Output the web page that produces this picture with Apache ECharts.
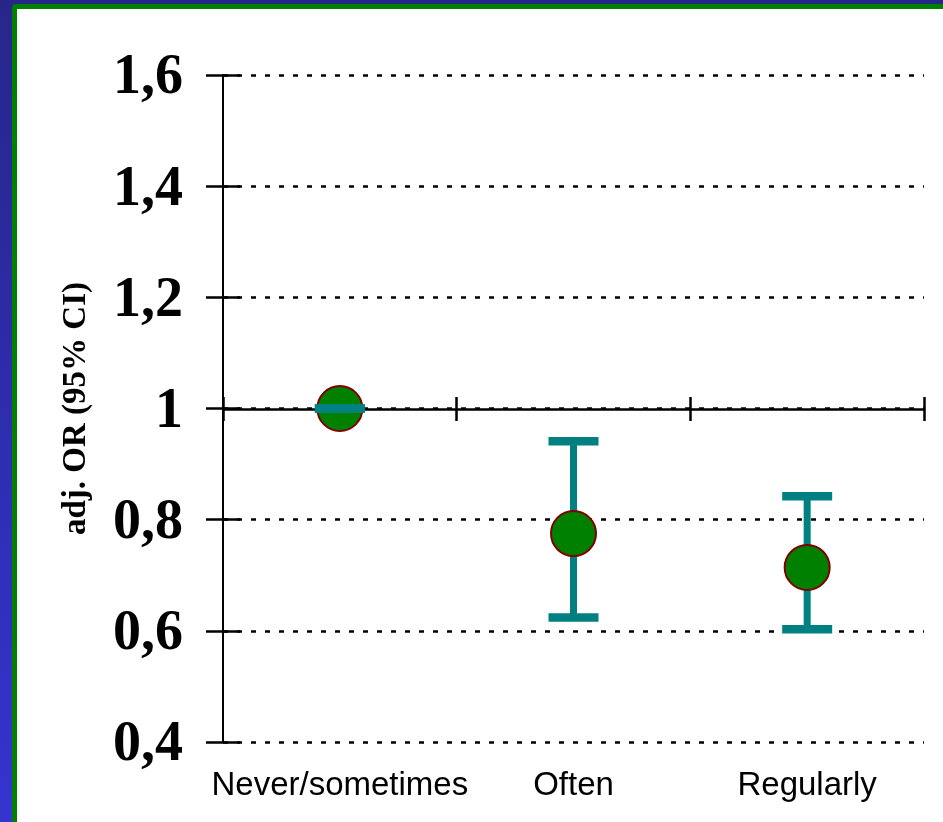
<!DOCTYPE html>
<html>
<head>
<meta charset="utf-8">
<script src="https://cdn.jsdelivr.net/npm/echarts@6/dist/echarts.min.js"></script>
<style>
  html, body { margin: 0; padding: 0; background: #fff; }
  #chart { width: 943px; height: 822px; }
</style>
</head>
<body>
<div id="chart"></div>
<script>
// Frequency categories
const categories = ['Never/sometimes', 'Often', 'Regularly'];
// Adjusted odds ratios and their 95% confidence limits
const orValues = [1, 0.775, 0.714];
const ciLower = [1, 0.624, 0.603];
const ciUpper = [1, 0.941, 0.842];
// Y axis scale
const yMin = 0.4, yMax = 1.6, yStep = 0.2;

const chart = echarts.init(document.getElementById('chart'), null, { renderer: 'canvas' });

const serifBold = { fontFamily: '"Liberation Serif", "Times New Roman", serif', fontWeight: 'bold', color: '#000' };
const TEAL = '#008080';

const errData = categories.map((c, i) => [i, ciLower[i], ciUpper[i]]);

const option = {
  animation: false,
  backgroundColor: '#ffffff',
  graphic: [
    { type: 'rect', z: -10, shape: { x: 0, y: 0, width: 943, height: 822 },
      style: { fill: new echarts.graphic.LinearGradient(0, 0, 0, 1, [
        { offset: 0, color: '#26268a' }, { offset: 1, color: '#3434d0' }]) } },
    { type: 'rect', z: -9, shape: { x: 12, y: 4, width: 931, height: 818, r: [4, 0, 0, 0] },
      style: { fill: '#008000' } },
    { type: 'rect', z: -8, shape: { x: 17, y: 9, width: 926, height: 813 },
      style: { fill: '#ffffff' } }
  ],
  grid: [
    { left: 223, right: 19, top: 75, bottom: 80 },
    // grid whose bottom edge sits at OR = 1, carrying the reference axis
    { left: 223, right: 19, top: 75, bottom: 413 }
  ],
  xAxis: [
    { type: 'category', gridIndex: 0, data: categories, position: 'bottom',
      axisLine: { show: false }, axisTick: { show: false }, splitLine: { show: false },
      axisLabel: { margin: 27, fontSize: 33, color: '#000', interval: 0, hideOverlap: false,
        fontFamily: '"Liberation Sans Narrow", "Liberation Sans", Arial, sans-serif' } },
    { type: 'category', gridIndex: 1, data: categories, position: 'bottom',
      axisLine: { show: true, lineStyle: { color: '#000', width: 2.5 } },
      axisTick: { show: true, inside: false, length: 12, lineStyle: { color: '#000', width: 2.5 } },
      axisLabel: { show: false }, splitLine: { show: false } },
    { type: 'category', gridIndex: 1, data: categories, position: 'bottom',
      axisLine: { show: false },
      axisTick: { show: true, inside: true, length: 12, lineStyle: { color: '#000', width: 2.5 } },
      axisLabel: { show: false }, splitLine: { show: false } }
  ],
  yAxis: [
    { type: 'value', gridIndex: 0, min: yMin, max: yMax, interval: yStep,
      name: 'adj. OR (95% CI)', nameLocation: 'middle', nameRotate: 90, nameGap: 130,
      nameTextStyle: Object.assign({ fontSize: 33 }, serifBold),
      axisLine: { show: true, lineStyle: { color: '#000', width: 2 } },
      axisTick: { show: true, inside: false, length: 17, lineStyle: { color: '#000', width: 2.5 } },
      axisLabel: Object.assign({ margin: 40, fontSize: 56, verticalAlign: 'top', lineHeight: 8,
        formatter: v => String(Math.round(v * 10) / 10).replace('.', ',') }, serifBold),
      splitLine: { show: true, lineStyle: { color: '#000', width: 2.5, type: [5, 9] } } },
    { type: 'value', gridIndex: 0, min: yMin, max: yMax, interval: yStep, position: 'left',
      axisLine: { show: false },
      axisTick: { show: true, inside: true, length: 17, lineStyle: { color: '#000', width: 2.5 } },
      axisLabel: { show: false }, splitLine: { show: false } },
    { type: 'value', gridIndex: 1, show: false, min: 0, max: 1 }
  ],
  series: [
    {
      // vertical whiskers of the confidence intervals
      type: 'custom', xAxisIndex: 0, yAxisIndex: 0, z: 2,
      data: errData,
      renderItem: (params, api) => {
        const lo = api.coord([api.value(0), api.value(1)]);
        const hi = api.coord([api.value(0), api.value(2)]);
        return { type: 'line', shape: { x1: lo[0], y1: lo[1], x2: hi[0], y2: hi[1] },
          style: { stroke: TEAL, lineWidth: 7 } };
      }
    },
    {
      type: 'scatter', xAxisIndex: 0, yAxisIndex: 0, z: 3,
      data: orValues.map((v, i) => [i, v]),
      symbol: 'circle', symbolSize: 45,
      itemStyle: { color: '#008000', borderColor: '#800000', borderWidth: 2, opacity: 1 }
    },
    {
      // end caps of the confidence intervals
      type: 'custom', xAxisIndex: 0, yAxisIndex: 0, z: 4,
      data: errData,
      renderItem: (params, api) => {
        const lo = api.coord([api.value(0), api.value(1)]);
        const hi = api.coord([api.value(0), api.value(2)]);
        const hw = 25;
        return { type: 'group', children: [
          { type: 'line', shape: { x1: lo[0] - hw, y1: lo[1], x2: lo[0] + hw, y2: lo[1] },
            style: { stroke: TEAL, lineWidth: 8.5 } },
          { type: 'line', shape: { x1: hi[0] - hw, y1: hi[1], x2: hi[0] + hw, y2: hi[1] },
            style: { stroke: TEAL, lineWidth: 8.5 } }
        ] };
      }
    }
  ]
};

chart.setOption(option);
</script>
</body>
</html>
